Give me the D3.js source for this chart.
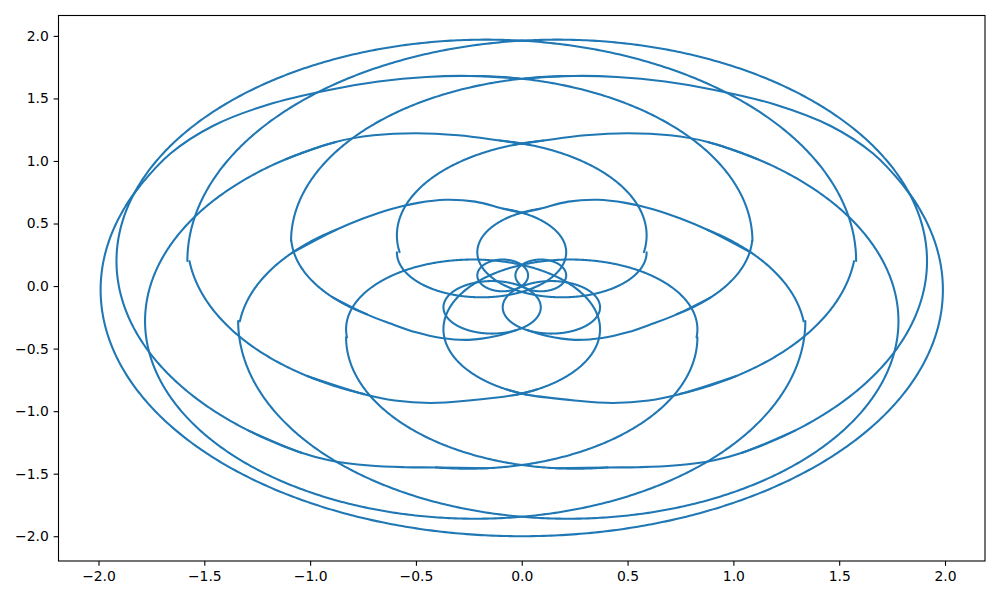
<!DOCTYPE html>
<html>
<head>
<meta charset="utf-8">
<script src="https://cdn.jsdelivr.net/npm/d3@7"></script>
<style>
  html, body { margin: 0; padding: 0; background: #ffffff; }
  svg { display: block; }
  .tick text { font-family: "DejaVu Sans", sans-serif; font-size: 13.9px; fill: #000; }
</style>
</head>
<body>
<svg id="chart" width="1000" height="600"></svg>
<script>
// Loops of the curve (data units): centre x, centre y, x radius, y radius
const loopNames = ["K0", "K1L", "K1R", "K2L", "K2R", "K3L", "K3R", "K4L", "K4R", "K5L", "K5R",
                   "K6L", "K6R", "K7L", "K7R", "K8L", "K8R", "K9L", "K9R"];
const loopCx = [0.0, -0.1675, 0.1675, -0.22, 0.22, -0.245, 0.245, -0.255, 0.255, -0.25, 0.25,
                -0.23, 0.23, -0.19, 0.19, -0.14, 0.14, -0.09, 0.09];
const loopCy = [-0.03, 0.20, 0.20, -0.28, -0.28, 0.36, 0.36, -0.41, -0.41, 0.405, 0.405,
                -0.345, -0.345, 0.27, 0.27, -0.17, -0.17, 0.085, 0.085];
const loopRx = [1.99, 1.7475, 1.7475, 1.56, 1.56, 1.335, 1.335, 1.085, 1.085, 0.84, 0.84,
                0.60, 0.60, 0.40, 0.40, 0.23, 0.23, 0.12, 0.12];
const loopRy = [1.97, 1.77, 1.77, 1.58, 1.58, 1.32, 1.32, 1.05, 1.05, 0.77, 0.77,
                0.557, 0.557, 0.36, 0.36, 0.21, 0.21, 0.127, 0.127];

// Visible part of each loop: loop index, start and end angle in degrees (counter-clockwise)
const arcLoop  = [0, 1, 2, 3, 4, 5, 5, 6, 6, 7, 7, 8, 8, 9, 9, 10, 10, 11, 12, 13, 14, 15, 16, 17, 18];
const arcStart = [155, 0, -60, 115, -180, 0, 187, 90, -68, 125, 262, 7, -180, -10, 183.3, 100, -55, 290, -366.7, 180, -255, 0, 0, 0, 0];
const arcEnd   = [385, 240, 180, 360, 65, 90, 248, 180, -7, 173, 360, 55, -82, 80, 235, 190, -3.3, 546.7, -110, 435, 0, 360, 360, 360, 360];

// Stretches where the curve passes from one loop to the next (x, y pairs in data units)
const join03L = [[-1.870, 0.644], [-1.8036, 0.8025], [-1.66, 1.06], [-1.46, 1.28], [-1.20, 1.45], [-0.905, 1.57], [-0.677, 1.635], [-0.45, 1.672], [-0.245, 1.68], [-0.013, 1.660]];
const join03R = [[1.870, 0.644], [1.8036, 0.8025], [1.66, 1.06], [1.46, 1.28], [1.20, 1.45], [0.905, 1.57], [0.677, 1.635], [0.45, 1.672], [0.245, 1.68], [0.013, 1.660]];
const join14L = [[-1.291, -1.156], [-1.041, -1.333], [-0.905, -1.395], [-0.72, -1.435], [-0.55, -1.448], [-0.406, -1.45], [-0.160, -1.456]];
const join14R = [[1.291, -1.156], [1.041, -1.333], [0.905, -1.395], [0.72, -1.435], [0.55, -1.448], [0.406, -1.45], [0.160, -1.456]];
const join25L = [[-1.115, 1.014], [-0.879, 1.152], [-0.70, 1.205], [-0.50, 1.222], [-0.30, 1.205], [-0.104, 1.163], [0.037, 1.129]];
const join25R = [[1.115, 1.014], [0.879, 1.152], [0.70, 1.205], [0.50, 1.222], [0.30, 1.205], [0.104, 1.163], [-0.037, 1.129]];
const join36L = [[-1.011, -0.721], [-0.745, -0.864], [-0.60, -0.915], [-0.43, -0.935], [-0.25, -0.915], [-0.025, -0.868], [0.07, -0.827]];
const join36R = [[1.011, -0.721], [0.745, -0.864], [0.60, -0.915], [0.43, -0.935], [0.25, -0.915], [0.025, -0.868], [-0.07, -0.827]];
const join47L = [[-1.086, 0.265], [-0.877, 0.450], [-0.75, 0.54], [-0.62, 0.615], [-0.49, 0.665], [-0.36, 0.69], [-0.22, 0.675], [-0.0865, 0.618], [0.01, 0.582]];
const join47R = [[1.086, 0.265], [0.877, 0.450], [0.75, 0.54], [0.62, 0.615], [0.49, 0.665], [0.36, 0.69], [0.22, 0.675], [0.0865, 0.618], [-0.01, 0.582]];
const join58L = [[-0.893, -0.090], [-0.732, -0.226], [-0.62, -0.30], [-0.50, -0.37], [-0.38, -0.415], [-0.25, -0.43], [-0.12, -0.40], [-0.025, -0.352]];
const join58R = [[0.893, -0.090], [0.732, -0.226], [0.62, -0.30], [0.50, -0.37], [0.38, -0.415], [0.25, -0.43], [0.12, -0.40], [0.025, -0.352]];

const xTicks = [-2.0, -1.5, -1.0, -0.5, 0.0, 0.5, 1.0, 1.5, 2.0];
const yTicks = [-2.0, -1.5, -1.0, -0.5, 0.0, 0.5, 1.0, 1.5, 2.0];
const xDomain = [-2.189, 2.189];
const yDomain = [-2.198, 2.163];

const svg = d3.select("#chart");
const plotL = 58.5, plotR = 985, plotT = 15.5, plotB = 561;
const lineColor = "#1f77b4";

const x = d3.scaleLinear().domain(xDomain).range([plotL, plotR]);
const y = d3.scaleLinear().domain(yDomain).range([plotB, plotT]);

svg.append("defs").append("clipPath").attr("id", "clip")
  .append("rect").attr("x", plotL).attr("y", plotT)
  .attr("width", plotR - plotL).attr("height", plotB - plotT);

const plot = svg.append("g").attr("clip-path", "url(#clip)");

// elliptical arc of a loop, traced in data space, projected through the scales
function arcPoints(i, a0, a1) {
  const pts = [];
  const n = Math.max(2, Math.ceil(Math.abs(a1 - a0) * 2));
  for (let k = 0; k <= n; k++) {
    const t = (a0 + (a1 - a0) * k / n) * Math.PI / 180;
    pts.push([loopCx[i] + loopRx[i] * Math.cos(t), loopCy[i] + loopRy[i] * Math.sin(t)]);
  }
  return pts;
}

const arcLine = d3.line().x(d => x(d[0])).y(d => y(d[1]));
const joinLine = d3.line().x(d => x(d[0])).y(d => y(d[1])).curve(d3.curveCatmullRom.alpha(0.5));

const arcs = arcLoop.map((li, k) => arcPoints(li, arcStart[k], arcEnd[k]));
plot.selectAll("path.arc").data(arcs).join("path")
  .attr("class", "arc")
  .attr("d", arcLine)
  .attr("fill", "none").attr("stroke", lineColor)
  .attr("stroke-width", 2.08).attr("stroke-linecap", "round").attr("stroke-linejoin", "round");

const joins = [join03L, join03R, join14L, join14R, join25L, join25R, join36L, join36R, join47L, join47R, join58L, join58R];
plot.selectAll("path.join").data(joins).join("path")
  .attr("class", "join")
  .attr("d", joinLine)
  .attr("fill", "none").attr("stroke", lineColor)
  .attr("stroke-width", 2.08).attr("stroke-linecap", "round").attr("stroke-linejoin", "round");

const fmt = v => (v < 0 ? "\u2212" : "") + Math.abs(v).toFixed(1);

const xAxis = d3.axisBottom(x).tickValues(xTicks).tickFormat(fmt).tickSizeOuter(0).tickSize(4.86).tickPadding(4.86);
const yAxis = d3.axisLeft(y).tickValues(yTicks).tickFormat(fmt).tickSizeOuter(0).tickSize(4.86).tickPadding(4.86);

const gx = svg.append("g").attr("transform", `translate(0,${plotB})`).call(xAxis);
const gy = svg.append("g").attr("transform", `translate(${plotL},0)`).call(yAxis);
[gx, gy].forEach(g => {
  g.select(".domain").remove();
  g.selectAll(".tick line").attr("stroke", "#000").attr("stroke-width", 1.1);
});

svg.append("rect").attr("x", plotL).attr("y", plotT)
  .attr("width", plotR - plotL).attr("height", plotB - plotT)
  .attr("fill", "none").attr("stroke", "#000").attr("stroke-width", 1.1);
</script>
</body>
</html>
